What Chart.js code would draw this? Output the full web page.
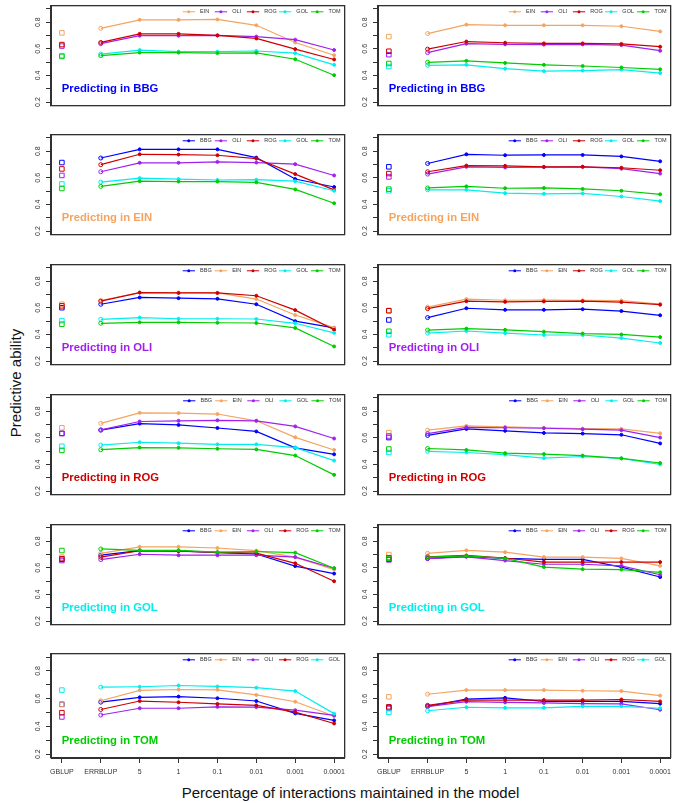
<!DOCTYPE html>
<html>
<head>
<meta charset="utf-8">
<script src="https://cdn.jsdelivr.net/npm/chart.js@4.4.0/dist/chart.umd.min.js"></script>
<style>
body{margin:0;background:#fff;width:676px;height:803px;position:relative;overflow:hidden;font-family:"Liberation Sans",Arial,sans-serif;}
canvas{position:absolute;}
#ylab{position:absolute;left:15px;top:383px;transform:translate(-50%,-50%) rotate(-90deg);font-size:15px;white-space:nowrap;color:#111;}
#xlab{position:absolute;left:150px;width:401px;top:785px;text-align:center;font-size:15px;line-height:15px;white-space:nowrap;color:#111;}
</style>
</head>
<body>
<div id="ylab">Predictive ability</div>
<div id="xlab">Percentage of interactions maintained in the model</div>
<script>
var categories = ['GBLUP','ERRBLUP','5','1','0.1','0.01','0.001','0.0001'];
var populations = ['BBG','EIN','OLI','ROG','GOL','TOM'];
var popColors = ['#0000FF','#F4A460','#A020F0','#CD0000','#00EEEE','#00CD00'];
var titleColors = ['#0000FF','#F4A460','#A020F0','#CD0000','#00EEEE','#00CD00'];
var yTicks = [0.2,0.3,0.4,0.5,0.6,0.7,0.8,0.9];
var yLabelled = [0.2,0.4,0.6,0.8];

// predicting in BBG (rows: EIN, OLI, ROG, GOL, TOM)
var bbgLeft = [
  [0.720,0.754,0.818,0.818,0.821,0.777,0.648,0.552],
  [0.621,0.639,0.699,0.699,0.701,0.692,0.669,0.591],
  [0.632,0.648,0.713,0.713,0.701,0.678,0.598,0.520],
  [0.549,0.561,0.591,0.579,0.579,0.584,0.568,0.480],
  [0.543,0.549,0.572,0.572,0.568,0.570,0.522,0.402]
];
var bbgRight = [
  [0.692,0.715,0.782,0.777,0.777,0.777,0.770,0.731],
  [0.556,0.572,0.639,0.634,0.632,0.634,0.628,0.586],
  [0.582,0.598,0.655,0.646,0.641,0.641,0.637,0.616],
  [0.467,0.476,0.480,0.451,0.432,0.437,0.444,0.418],
  [0.490,0.499,0.510,0.494,0.480,0.471,0.460,0.446]
];
// predicting in EIN (rows: BBG, OLI, ROG, GOL, TOM)
var einLeft = [
  [0.715,0.749,0.814,0.814,0.814,0.752,0.591,0.531],
  [0.618,0.646,0.713,0.713,0.720,0.715,0.703,0.618],
  [0.667,0.699,0.777,0.775,0.770,0.745,0.628,0.510],
  [0.554,0.568,0.598,0.591,0.584,0.586,0.575,0.503],
  [0.520,0.536,0.575,0.572,0.572,0.566,0.513,0.409]
];
var einRight = [
  [0.683,0.708,0.777,0.770,0.772,0.772,0.761,0.724],
  [0.607,0.628,0.683,0.678,0.680,0.683,0.669,0.632],
  [0.632,0.646,0.692,0.690,0.683,0.683,0.676,0.657],
  [0.503,0.510,0.510,0.485,0.480,0.483,0.460,0.425],
  [0.515,0.524,0.536,0.522,0.524,0.517,0.503,0.476]
];
// predicting in OLI (rows: BBG, EIN, ROG, GOL, TOM)
var oliLeft = [
  [0.601,0.627,0.678,0.673,0.668,0.627,0.500,0.449],
  [0.627,0.655,0.715,0.715,0.712,0.666,0.546,0.451],
  [0.615,0.650,0.715,0.712,0.712,0.691,0.583,0.435],
  [0.504,0.514,0.527,0.518,0.518,0.516,0.484,0.412],
  [0.477,0.484,0.491,0.491,0.488,0.486,0.449,0.310]
];
var oliRight = [
  [0.509,0.527,0.597,0.585,0.585,0.590,0.576,0.544],
  [0.581,0.606,0.666,0.657,0.659,0.657,0.655,0.629],
  [0.578,0.594,0.650,0.645,0.648,0.650,0.643,0.624],
  [0.398,0.410,0.426,0.410,0.396,0.396,0.373,0.336],
  [0.424,0.433,0.444,0.435,0.421,0.407,0.400,0.380]
];
// predicting in ROG (rows: BBG, EIN, OLI, GOL, TOM)
var rogLeft = [
  [0.634,0.658,0.707,0.697,0.674,0.648,0.525,0.476],
  [0.676,0.709,0.788,0.786,0.779,0.728,0.604,0.509],
  [0.632,0.660,0.723,0.728,0.732,0.728,0.686,0.595],
  [0.537,0.546,0.567,0.560,0.551,0.551,0.527,0.429],
  [0.506,0.511,0.527,0.525,0.518,0.513,0.467,0.322]
];
var rogRight = [
  [0.602,0.618,0.667,0.653,0.637,0.632,0.623,0.558],
  [0.639,0.658,0.690,0.683,0.676,0.669,0.667,0.634],
  [0.614,0.632,0.679,0.676,0.672,0.665,0.658,0.602],
  [0.490,0.499,0.490,0.474,0.448,0.460,0.446,0.401],
  [0.516,0.520,0.509,0.485,0.478,0.467,0.446,0.411]
];
// predicting in GOL (rows: BBG, EIN, OLI, ROG, TOM)
var golLeft = [
  [0.665,0.695,0.730,0.728,0.714,0.704,0.613,0.557],
  [0.681,0.709,0.758,0.758,0.749,0.730,0.681,0.587],
  [0.655,0.662,0.702,0.695,0.695,0.695,0.681,0.597],
  [0.669,0.681,0.730,0.725,0.716,0.711,0.634,0.499],
  [0.730,0.742,0.732,0.732,0.718,0.723,0.714,0.597]
];
var golRight = [
  [0.664,0.671,0.686,0.671,0.664,0.664,0.606,0.531],
  [0.700,0.709,0.732,0.718,0.681,0.681,0.671,0.615],
  [0.660,0.669,0.683,0.655,0.627,0.627,0.615,0.548],
  [0.676,0.683,0.693,0.674,0.643,0.643,0.643,0.643],
  [0.671,0.681,0.690,0.671,0.606,0.590,0.587,0.566]
];
// predicting in TOM (rows: BBG, EIN, OLI, ROG, GOL)
var tomLeft = [
  [0.559,0.575,0.610,0.615,0.603,0.583,0.494,0.443],
  [0.559,0.585,0.660,0.666,0.664,0.627,0.578,0.475],
  [0.468,0.482,0.531,0.531,0.541,0.539,0.517,0.479],
  [0.499,0.522,0.583,0.574,0.562,0.552,0.503,0.421],
  [0.662,0.683,0.686,0.695,0.688,0.679,0.655,0.492]
];
var tomRight = [
  [0.536,0.545,0.597,0.606,0.580,0.580,0.580,0.564],
  [0.613,0.632,0.662,0.662,0.662,0.657,0.655,0.622],
  [0.529,0.543,0.578,0.573,0.569,0.564,0.562,0.520],
  [0.541,0.552,0.590,0.590,0.590,0.590,0.594,0.580],
  [0.501,0.513,0.538,0.534,0.534,0.545,0.545,0.531]
];

var leftPanels = [bbgLeft, einLeft, oliLeft, rogLeft, golLeft, tomLeft];
var rightPanels = [bbgRight, einRight, oliRight, rogRight, golRight, tomRight];
var rowTops = [2, 131, 261, 391, 521, 650];
var FONT = '"Liberation Sans", Arial, sans-serif';

var panelDecor = {
  id: 'panelDecor',
  afterDraw: function(chart, args, opts) {
    var ctx = chart.ctx, a = chart.chartArea;
    var L = Math.round(a.left), T = Math.round(a.top), R = Math.round(a.right), B = Math.round(a.bottom);
    ctx.save();
    // box round the plot region
    ctx.fillStyle = '#303030';
    ctx.fillRect(L - 1, T, R - L + 1, 1.3);
    ctx.fillRect(L - 1, B - 1, R - L + 1, 1.3);
    ctx.fillRect(L - 1, T, 1.3, B - T);
    ctx.fillRect(R - 1, T, 1.3, B - T);

    ctx.font = 'bold 11.3px ' + FONT;
    ctx.fillStyle = opts.color;
    ctx.textAlign = 'left';
    ctx.textBaseline = 'middle';
    ctx.fillText('Predicting in ' + opts.target, a.left + 10.7, a.bottom - 16.7);

    // legend, R style, top right inside the box
    ctx.font = '5.5px ' + FONT;
    var sets = chart.data.datasets;
    var maxW = 0;
    sets.forEach(function(d) { maxW = Math.max(maxW, ctx.measureText(d.label).width); });
    var n = sets.length, ly = a.top + 6.6;
    ctx.lineWidth = 1;
    sets.forEach(function(d, i) {
      var x0 = a.right - 4 - maxW - 17.4 - (n - 1 - i) * 32.1;
      ctx.strokeStyle = d.borderColor;
      ctx.beginPath(); ctx.moveTo(x0, ly); ctx.lineTo(x0 + 12.3, ly); ctx.stroke();
      ctx.fillStyle = d.borderColor;
      ctx.beginPath(); ctx.arc(x0 + 6.1, ly, 1.5, 0, Math.PI * 2); ctx.fill();
      ctx.fillStyle = '#333';
      ctx.fillText(d.label, x0 + 17.4, ly);
    });
    ctx.restore();
  }
};

function makePanel(row, col) {
  var target = populations[row];
  var rows = col === 0 ? leftPanels[row] : rightPanels[row];
  var bottom = row === 5;
  var cv = document.createElement('canvas');
  var cx = col === 0 ? 20 : 350;
  var cw = col === 0 ? 330 : 326;
  var ch = bottom ? 145 : 115;
  cv.width = cw; cv.height = ch;
  cv.style.left = cx + 'px';
  cv.style.top = (rowTops[row] - 4) + 'px';
  cv.style.width = cw + 'px'; cv.style.height = ch + 'px';
  document.body.appendChild(cv);

  var sources = populations.filter(function(p) { return p !== target; });
  var datasets = sources.map(function(name, i) {
    var c = popColors[populations.indexOf(name)];
    return {
      label: name,
      data: rows[i].map(function(v, j) { return {x: j + 1, y: v}; }),
      borderColor: c,
      backgroundColor: c,
      borderWidth: 1.2,
      pointStyle: categories.map(function(k, j) { return j === 0 ? 'rect' : 'circle'; }),
      pointRadius: categories.map(function(k, j) { return j === 0 ? 3.2 : (j === 1 ? 2 : 1.5); }),
      pointBackgroundColor: categories.map(function(k, j) { return j < 2 ? 'rgba(0,0,0,0)' : c; }),
      pointBorderColor: c,
      pointBorderWidth: 1,
      order: -i,
      segment: { borderColor: function(s) { return s.p0DataIndex === 0 ? 'rgba(0,0,0,0)' : undefined; } }
    };
  });

  new Chart(cv.getContext('2d'), {
    type: 'line',
    data: { datasets: datasets },
    options: {
      responsive: false,
      animation: false,
      devicePixelRatio: 1,
      events: [],
      layout: { padding: { top: 4, bottom: bottom ? 0 : 3, left: 0, right: col === 0 ? 3 : 2 } },
      scales: {
        x: {
          type: 'linear', min: 0.72, max: 8.28,
          display: bottom,
          afterBuildTicks: function(s) { s.ticks = categories.map(function(k, j) { return {value: j + 1}; }); },
          afterFit: function(s) { s.height = bottom ? 33 : 0; },
          grid: { drawOnChartArea: false, tickLength: 5, color: '#333', lineWidth: 1 },
          border: { color: '#333', width: 1 },
          ticks: {
            autoSkip: false, maxRotation: 0, minRotation: 0, padding: 5,
            color: '#333', font: { size: 7, family: FONT },
            callback: function(v) { return categories[v - 1]; }
          }
        },
        y: {
          min: 0.172, max: 0.928,
          afterBuildTicks: function(s) { s.ticks = yTicks.map(function(v) { return {value: v}; }); },
          afterFit: function(s) { s.width = col === 0 ? 31 : 28; },
          grid: { drawOnChartArea: false, tickLength: 5, color: '#333', lineWidth: 1 },
          border: { color: '#333', width: 1 },
          ticks: {
            autoSkip: false, minRotation: 90, maxRotation: 90, crossAlign: 'center', padding: 3,
            color: '#333', font: { size: 7, family: FONT },
            callback: function(v) { return yLabelled.indexOf(v) >= 0 ? v.toFixed(1) : ''; }
          }
        }
      },
      plugins: {
        legend: { display: false },
        tooltip: { enabled: false },
        panelDecor: { target: target, color: titleColors[row] }
      }
    },
    plugins: [panelDecor]
  });
}

for (var r = 0; r < 6; r++) {
  makePanel(r, 0);
  makePanel(r, 1);
}
</script>
</body>
</html>
